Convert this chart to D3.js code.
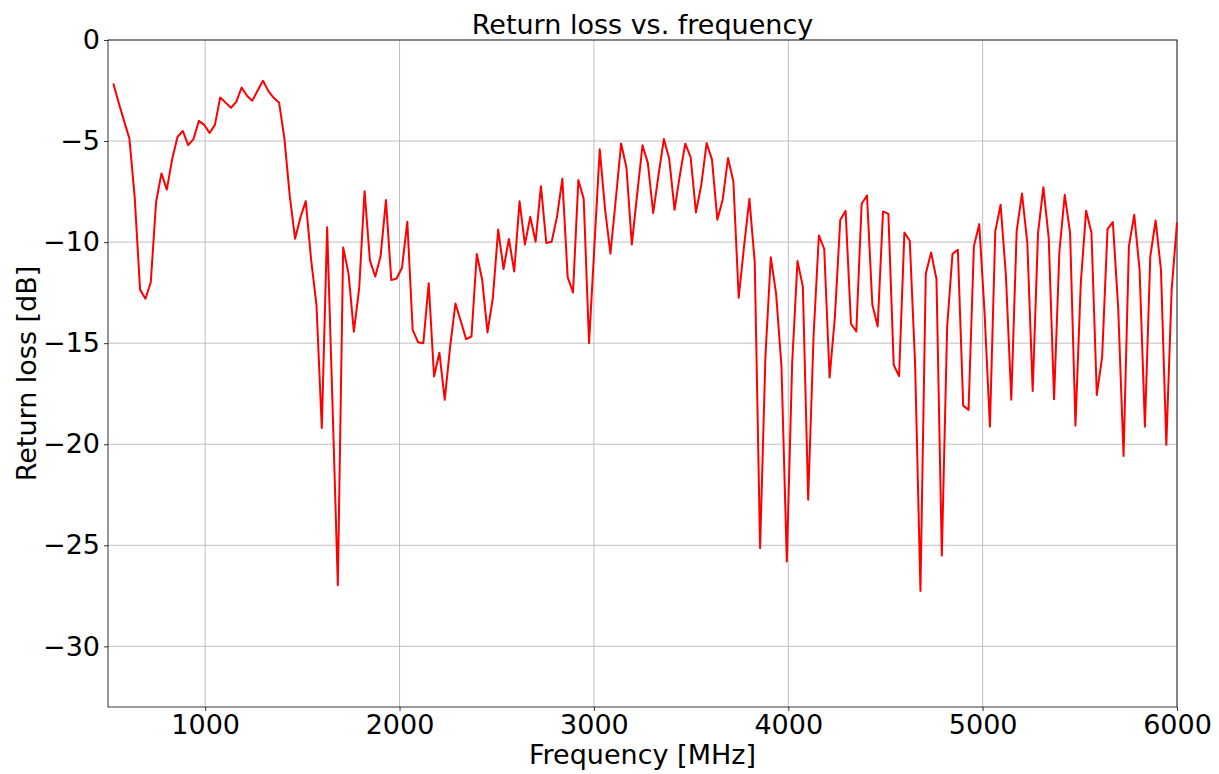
<!DOCTYPE html>
<html>
<head>
<meta charset="utf-8">
<style>
  body { margin: 0; background: #fff; }
  svg text { font-family: "DejaVu Sans", sans-serif; fill: #000; }
</style>
</head>
<body>
<svg id="chart" width="1219" height="774"></svg>
<script src="https://cdn.jsdelivr.net/npm/d3@7"></script>
<script>

// frequency points (MHz)
var freqs = [
  527.5, 555, 582.5, 610, 637.5, 665, 692.5, 720, 747.5, 775,
  802.5, 830, 857.5, 885, 912.5, 940, 967.5, 995, 1022.5, 1050,
  1077.5, 1105, 1132.5, 1160, 1187.5, 1215, 1242.5, 1270, 1297.5, 1325,
  1352.5, 1380, 1407.5, 1435, 1462.5, 1490, 1517.5, 1545, 1572.5, 1600,
  1627.5, 1655, 1682.5, 1710, 1737.5, 1765, 1792.5, 1820, 1847.5, 1875,
  1902.5, 1930, 1957.5, 1985, 2012.5, 2040, 2067.5, 2095, 2122.5, 2150,
  2177.5, 2205, 2232.5, 2260, 2287.5, 2315, 2342.5, 2370, 2397.5, 2425,
  2452.5, 2480, 2507.5, 2535, 2562.5, 2590, 2617.5, 2645, 2672.5, 2700,
  2727.5, 2755, 2782.5, 2810, 2837.5, 2865, 2892.5, 2920, 2947.5, 2975,
  3002.5, 3030, 3057.5, 3085, 3112.5, 3140, 3167.5, 3195, 3222.5, 3250,
  3277.5, 3305, 3332.5, 3360, 3387.5, 3415, 3442.5, 3470, 3497.5, 3525,
  3552.5, 3580, 3607.5, 3635, 3662.5, 3690, 3717.5, 3745, 3772.5, 3800,
  3827.5, 3855, 3882.5, 3910, 3937.5, 3965, 3992.5, 4020, 4047.5, 4075,
  4102.5, 4130, 4157.5, 4185, 4212.5, 4240, 4267.5, 4295, 4322.5, 4350,
  4377.5, 4405, 4432.5, 4460, 4487.5, 4515, 4542.5, 4570, 4597.5, 4625,
  4652.5, 4680, 4707.5, 4735, 4762.5, 4790, 4817.5, 4845, 4872.5, 4900,
  4927.5, 4955, 4982.5, 5010, 5037.5, 5065, 5092.5, 5120, 5147.5, 5175,
  5202.5, 5230, 5257.5, 5285, 5312.5, 5340, 5367.5, 5395, 5422.5, 5450,
  5477.5, 5505, 5532.5, 5560, 5587.5, 5615, 5642.5, 5670, 5697.5, 5725,
  5752.5, 5780, 5807.5, 5835, 5862.5, 5890, 5917.5, 5945, 5972.5, 6000
];

// return loss (dB)
var returnLoss = [
  -2.15, -3.1, -4.0, -4.87, -7.8, -12.35, -12.8, -12.0, -8.0, -6.6,
  -7.4, -5.9, -4.8, -4.5, -5.2, -4.9, -4.0, -4.2, -4.6, -4.2,
  -2.84, -3.1, -3.35, -3.06, -2.35, -2.76, -3.0, -2.5, -2.02, -2.53,
  -2.86, -3.09, -4.87, -7.7, -9.83, -8.78, -7.97, -10.87, -13.1, -19.2,
  -9.27, -18.0, -26.98, -10.26, -11.56, -14.43, -12.26, -7.48, -10.9, -11.7,
  -10.7, -7.92, -11.88, -11.8, -11.27, -8.99, -14.34, -14.95, -15.0, -12.03,
  -16.65, -15.47, -17.8, -15.2, -13.04, -13.9, -14.8, -14.67, -10.59, -11.86,
  -14.47, -12.77, -9.38, -11.33, -9.84, -11.45, -7.98, -10.12, -8.75, -9.98,
  -7.23, -10.04, -9.98, -8.75, -6.87, -11.73, -12.49, -6.93, -7.86, -15.0,
  -10.2, -5.41, -8.39, -10.57, -7.89, -5.12, -6.32, -10.12, -7.64, -5.21,
  -6.08, -8.56, -6.67, -4.9, -5.89, -8.4, -6.67, -5.13, -5.79, -8.53,
  -7.16, -5.1, -5.92, -8.89, -7.9, -5.84, -7.0, -12.75, -10.21, -7.86,
  -11.0, -25.15, -15.66, -10.75, -12.56, -16.15, -25.8, -16.0, -10.94, -12.2,
  -22.75, -14.67, -9.67, -10.34, -16.7, -13.68, -8.9, -8.45, -14.04, -14.42,
  -8.1, -7.69, -13.1, -14.17, -8.48, -8.6, -16.08, -16.63, -9.52, -9.93,
  -16.0, -27.26, -11.57, -10.51, -11.83, -25.5, -14.17, -10.58, -10.38, -18.09,
  -18.3, -10.21, -9.11, -13.5, -19.13, -9.47, -8.15, -11.7, -17.8, -9.47,
  -7.6, -10.05, -17.36, -9.55, -7.28, -9.8, -17.77, -10.46, -7.66, -9.55,
  -19.08, -12.03, -8.45, -9.55, -17.56, -15.66, -9.36, -9.01, -13.27, -20.58,
  -10.21, -8.65, -11.37, -19.13, -10.71, -8.93, -11.37, -20.03, -12.36, -9.03
];

var xTicks = [1000, 2000, 3000, 4000, 5000, 6000];
var yTicks = [0, -5, -10, -15, -20, -25, -30];

var data = freqs.map(function(f, i){ return [f, returnLoss[i]]; });

var svg = d3.select('#chart');
var margin = {top: 40, right: 42, bottom: 67, left: 108},
    width = +svg.attr('width') - margin.left - margin.right,
    height = +svg.attr('height') - margin.top - margin.bottom;

var g = svg.append('g')
    .attr('transform', 'translate(' + margin.left + ',' + margin.top + ')');

var x = d3.scaleLinear().domain([500, 6000]).range([0, width]);
var y = d3.scaleLinear().domain([-33, 0]).range([height, 0]);

var fmt = function(d){ return d < 0 ? '\u2212' + Math.abs(d) : '' + d; };

// grid
g.append('g').selectAll('line').data(xTicks).enter().append('line')
    .attr('x1', function(d){ return x(d); }).attr('x2', function(d){ return x(d); })
    .attr('y1', 0).attr('y2', height)
    .style('stroke', '#b0b0b0').style('stroke-width', 0.8);
g.append('g').selectAll('line').data(yTicks).enter().append('line')
    .attr('y1', function(d){ return y(d); }).attr('y2', function(d){ return y(d); })
    .attr('x1', 0).attr('x2', width)
    .style('stroke', '#b0b0b0').style('stroke-width', 0.8);

// axes
var xAxis = g.append('g')
    .attr('transform', 'translate(0,' + height + ')')
    .call(d3.axisBottom(x).tickValues(xTicks).tickFormat(fmt).tickSize(4).tickPadding(4));
var yAxis = g.append('g')
    .call(d3.axisLeft(y).tickValues(yTicks).tickFormat(fmt).tickSize(4).tickPadding(4));

[xAxis, yAxis].forEach(function(a){
    a.select('.domain').remove();
    a.selectAll('line').style('stroke', '#000').style('stroke-width', 0.8);
    a.selectAll('text').style('font-size', '27px').style('font-family', '"DejaVu Sans", sans-serif');
});

// frame
g.append('rect').attr('width', width).attr('height', height)
    .style('fill', 'none').style('stroke', '#000').style('stroke-width', 0.8);

// data line
g.append('path').datum(data)
    .attr('d', d3.line()
        .x(function(d){ return x(d[0]); })
        .y(function(d){ return y(d[1]); }))
    .style('fill', 'none')
    .style('stroke', '#ff0000')
    .style('stroke-width', 2)
    .style('stroke-linejoin', 'round');

svg.append('text')
    .attr('x', margin.left + width / 2).attr('y', 34)
    .attr('text-anchor', 'middle')
    .style('font-size', '27px')
    .text('Return loss vs. frequency');

svg.append('text')
    .attr('x', margin.left + width / 2).attr('y', 764)
    .attr('text-anchor', 'middle')
    .style('font-size', '27px')
    .text('Frequency [MHz]');

svg.append('text')
    .attr('transform', 'translate(36,' + (margin.top + height / 2) + ') rotate(-90)')
    .attr('text-anchor', 'middle')
    .style('font-size', '27px')
    .text('Return loss [dB]');

</script>
</body>
</html>
